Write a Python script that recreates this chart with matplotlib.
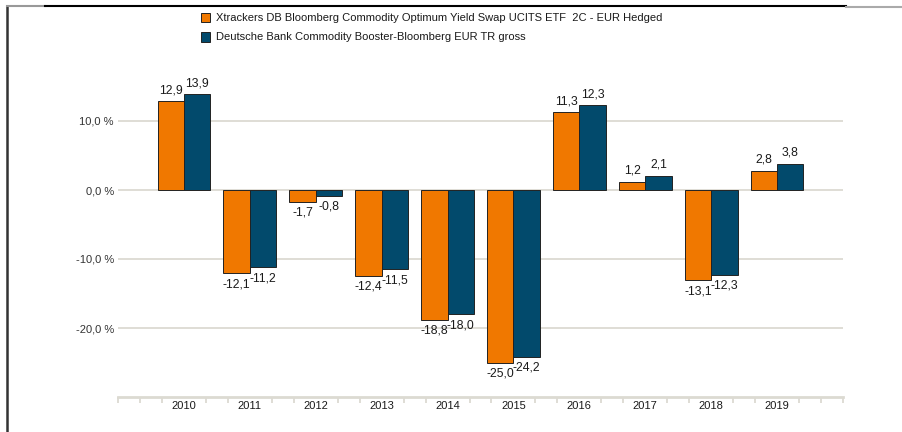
import numpy as np
import matplotlib
matplotlib.use('Agg')
import matplotlib.pyplot as plt
from matplotlib.lines import Line2D

years = ['2010', '2011', '2012', '2013', '2014', '2015', '2016', '2017', '2018', '2019']
etf = [12.9, -12.1, -1.7, -12.4, -18.8, -25.0, 11.3, 1.2, -13.1, 2.8]
index = [13.9, -11.2, -0.8, -11.5, -18.0, -24.2, 12.3, 2.1, -12.3, 3.8]
names = ['Xtrackers DB Bloomberg Commodity Optimum Yield Swap UCITS ETF  2C - EUR Hedged',
         'Deutsche Bank Commodity Booster-Bloomberg EUR TR gross']

orange = '#f07800'
blue = '#024a6c'
grid_c = '#dcdad2'
txt = '#1a1a1a'

plt.rcParams['font.family'] = ['Liberation Sans', 'DejaVu Sans']

fig = plt.figure(figsize=(9.03, 4.32), dpi=100)
ax = fig.add_axes([118/903, 1-397/432, 725/903, 345/432])

x = np.arange(len(years))
w = 0.4
b1 = ax.bar(x - w/2, etf, w, color=orange, edgecolor='#222222', linewidth=0.7, zorder=3)
b2 = ax.bar(x + w/2, index, w, color=blue, edgecolor='#222222', linewidth=0.7, zorder=3)

def fmt(v):
    return ('%.1f' % v).replace('.', ',')

# value labels centred on each bar
for bars, vals in ((b1, etf), (b2, index)):
    for r, v in zip(bars, vals):
        cx = r.get_x() + r.get_width()/2
        if v >= 0:
            ax.annotate(fmt(v), (cx, v), xytext=(0, 3.5), textcoords='offset points',
                        ha='center', va='bottom', fontsize=8.8, color=txt)
        else:
            ax.annotate(fmt(v), (cx, v), xytext=(0, -3.5), textcoords='offset points',
                        ha='center', va='top', fontsize=8.8, color=txt)

ax.set_xlim(-1, 10)
ax.set_ylim(-30, 20)
ax.set_yticks([-20, -10, 0, 10])
ax.set_yticklabels([fmt(t) + ' %' for t in [-20, -10, 0, 10]], fontsize=8, color='#333333')
ax.yaxis.grid(True, color=grid_c, linewidth=1.3, zorder=0)
ax.tick_params(axis='y', length=0, pad=3)

ax.set_xticks(x)
ax.set_xticklabels(years, fontsize=8, color=txt)
ax.set_xticks(np.arange(-1, 10.01, 1/3), minor=True)
ax.tick_params(axis='x', which='major', length=0, pad=3)
ax.tick_params(axis='x', which='minor', length=4, width=1.3, color=grid_c, direction='out')

for s in ('top', 'right', 'left'):
    ax.spines[s].set_visible(False)
ax.spines['bottom'].set_color(grid_c)
ax.spines['bottom'].set_linewidth(2)

# legend
for i, (n, c) in enumerate(zip(names, [orange, blue])):
    yy = 1 - (18 + 19*i)/432
    fig.patches.append(plt.Rectangle((201/903, yy - 4.5/432), 9/903, 9/432, facecolor=c,
                                     edgecolor='#222222', linewidth=0.7, transform=fig.transFigure))
    fig.text(216/903, yy, n, fontsize=8, va='center', ha='left', color=txt)

# frame lines
fig.add_artist(Line2D([7/903, 7/903], [0, 1-6/432], color='#333333', linewidth=1.8))
fig.add_artist(Line2D([7/903, 45/903], [1-6/432, 1-6/432], color='#999999', linewidth=1.5))
fig.add_artist(Line2D([45/903, 846/903], [1-6/432, 1-6/432], color='#000000', linewidth=1.5))
fig.add_artist(Line2D([846/903, 903/903], [1-7/432, 1-7/432], color='#aaaaaa', linewidth=1.5))

fig.savefig('out.png', dpi=100)
